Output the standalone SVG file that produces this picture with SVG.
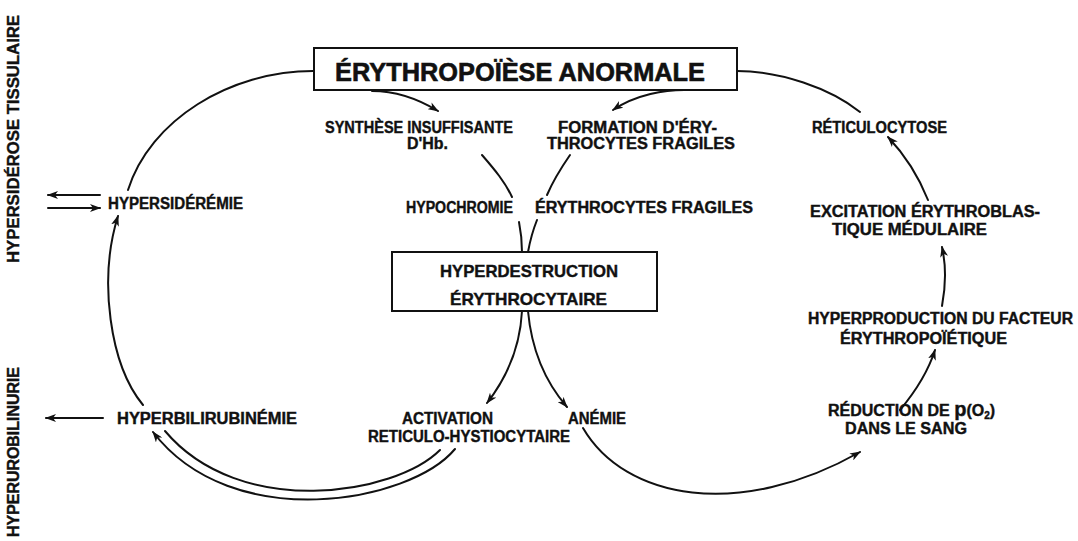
<svg xmlns="http://www.w3.org/2000/svg" width="1078" height="541" viewBox="0 0 1078 541">
<style>
  .t { font-family: "Liberation Sans", "DejaVu Sans", sans-serif; font-weight: bold; font-size: 16px; fill: #111; stroke: #111; stroke-width: 0.4; }
  .big { font-size: 17px; }
  .title { font-size: 25px; stroke-width: 0.6; }
  .box { fill: #fff; stroke: #111; stroke-width: 2; }
  .c { fill: none; stroke: #111; stroke-width: 2; stroke-linecap: round; }
  .a { marker-end: url(#ah); }
</style>
<defs>
  <marker id="ah" markerUnits="userSpaceOnUse" markerWidth="12" markerHeight="8" refX="10" refY="4" orient="auto">
    <path d="M0,0 L11,4 L0,8 L3,4 z" fill="#111"/>
  </marker>
</defs>
<rect width="1078" height="541" fill="#fff"/>

<g id="connectors">
  <!-- left circle -->
  <path class="c" d="M313,71 C 230,71 150,120 128,190"/>
  <path class="c a" d="M143,405 C 110,365 98,280 118,216"/>
  <path class="c" d="M482,155 C 495,170 505,182 512,197"/>
  <path class="c" d="M519,222 C 521,232 522,242 522,252"/>
  <path class="c a" d="M522,311 C 520,350 505,380 487,403"/>
  <path class="c" d="M440,450 C 395,495 240,520 165,431"/>
  <path class="c a" d="M455,449 C 410,503 232,535 153,432"/>
  <!-- right circle -->
  <path class="c" d="M737,71 C 780,71 830,88 860,112"/>
  <path class="c a" d="M928,200 C 918,175 905,155 888,137"/>
  <path class="c a" d="M942,306 C 946,285 946,265 942,247"/>
  <path class="c a" d="M900,410 C 915,392 928,372 935,350"/>
  <path class="c a" d="M583,428 C 625,500 740,520 860,452"/>
  <path class="c a" d="M528,311 C 532,355 548,385 567,407"/>
  <path class="c" d="M570,155 C 561,168 553,181 547,195"/>
  <path class="c" d="M537,220 C 533,230 530,241 528,252"/>
  <!-- from title box -->
  <path class="c a" d="M372,91 C 395,91 415,97 438,111"/>
  <path class="c a" d="M690,90 C 665,89 635,95 613,110"/>
  <!-- side arrows -->
  <path class="c a" d="M100,195 L48,195"/>
  <path class="c a" d="M48,208 L100,208"/>
  <path class="c a" d="M103,418 L46,418"/>
</g>

<g id="erythropoiese">
  <rect class="box" x="314" y="48" width="423" height="42"/>
  <text class="t title" x="335" y="81" textLength="370" lengthAdjust="spacingAndGlyphs">ÉRYTHROPOÏÈSE ANORMALE</text>
</g>
<g id="synthese">
  <text class="t" x="325" y="133" textLength="188" lengthAdjust="spacingAndGlyphs">SYNTHÈSE INSUFFISANTE</text>
  <text class="t" x="407" y="149" textLength="41" lengthAdjust="spacingAndGlyphs">D'Hb.</text>
</g>
<g id="formation">
  <text class="t" x="558" y="133" textLength="159" lengthAdjust="spacingAndGlyphs">FORMATION D'ÉRY-</text>
  <text class="t" x="547" y="149" textLength="188" lengthAdjust="spacingAndGlyphs">THROCYTES FRAGILES</text>
</g>
<g id="reticulocytose">
  <text class="t" x="812" y="133" textLength="135" lengthAdjust="spacingAndGlyphs">RÉTICULOCYTOSE</text>
</g>
<g id="hypersideremie">
  <text class="t" x="108" y="209" textLength="135" lengthAdjust="spacingAndGlyphs">HYPERSIDÉRÉMIE</text>
</g>
<g id="hypochromie">
  <text class="t" x="406" y="213" textLength="107" lengthAdjust="spacingAndGlyphs">HYPOCHROMIE</text>
</g>
<g id="erythrocytes-fragiles">
  <text class="t" x="535" y="213" textLength="218" lengthAdjust="spacingAndGlyphs">ÉRYTHROCYTES FRAGILES</text>
</g>
<g id="excitation">
  <text class="t" x="810" y="217" textLength="230" lengthAdjust="spacingAndGlyphs">EXCITATION ÉRYTHROBLAS-</text>
  <text class="t" x="832" y="235" textLength="155" lengthAdjust="spacingAndGlyphs">TIQUE MÉDULAIRE</text>
</g>
<g id="hyperdestruction">
  <rect class="box" x="392" y="252" width="265" height="59"/>
  <text class="t big" x="440" y="277" textLength="178" lengthAdjust="spacingAndGlyphs">HYPERDESTRUCTION</text>
  <text class="t big" x="450" y="305" textLength="157" lengthAdjust="spacingAndGlyphs">ÉRYTHROCYTAIRE</text>
</g>
<g id="hyperproduction">
  <text class="t" x="808" y="324" textLength="265" lengthAdjust="spacingAndGlyphs">HYPERPRODUCTION DU FACTEUR</text>
  <text class="t" x="840" y="344" textLength="167" lengthAdjust="spacingAndGlyphs">ÉRYTHROPOÏÉTIQUE</text>
</g>
<g id="reduction">
  <text class="t" x="828" y="416">RÉDUCTION DE <tspan font-size="20">p</tspan>(O<tspan font-size="10" dy="3">2</tspan><tspan dy="-3">)</tspan></text>
  <text class="t" x="845" y="434" textLength="122" lengthAdjust="spacingAndGlyphs">DANS LE SANG</text>
</g>
<g id="hyperbilirubinemie">
  <text class="t" x="117" y="424" textLength="180" lengthAdjust="spacingAndGlyphs">HYPERBILIRUBINÉMIE</text>
</g>
<g id="activation">
  <text class="t" x="402" y="424" textLength="91" lengthAdjust="spacingAndGlyphs">ACTIVATION</text>
  <text class="t" x="368" y="442" textLength="202" lengthAdjust="spacingAndGlyphs">RETICULO-HYSTIOCYTAIRE</text>
</g>
<g id="anemie">
  <text class="t" x="568" y="424" textLength="58" lengthAdjust="spacingAndGlyphs">ANÉMIE</text>
</g>
<g id="hypersiderose">
  <text class="t" transform="translate(19,263) rotate(-90)" x="0" y="0" textLength="248" lengthAdjust="spacingAndGlyphs">HYPERSIDÉROSE TISSULAIRE</text>
</g>
<g id="hyperurobilinurie">
  <text class="t" transform="translate(19,537) rotate(-90)" x="0" y="0" textLength="170" lengthAdjust="spacingAndGlyphs">HYPERUROBILINURIE</text>
</g>
</svg>
